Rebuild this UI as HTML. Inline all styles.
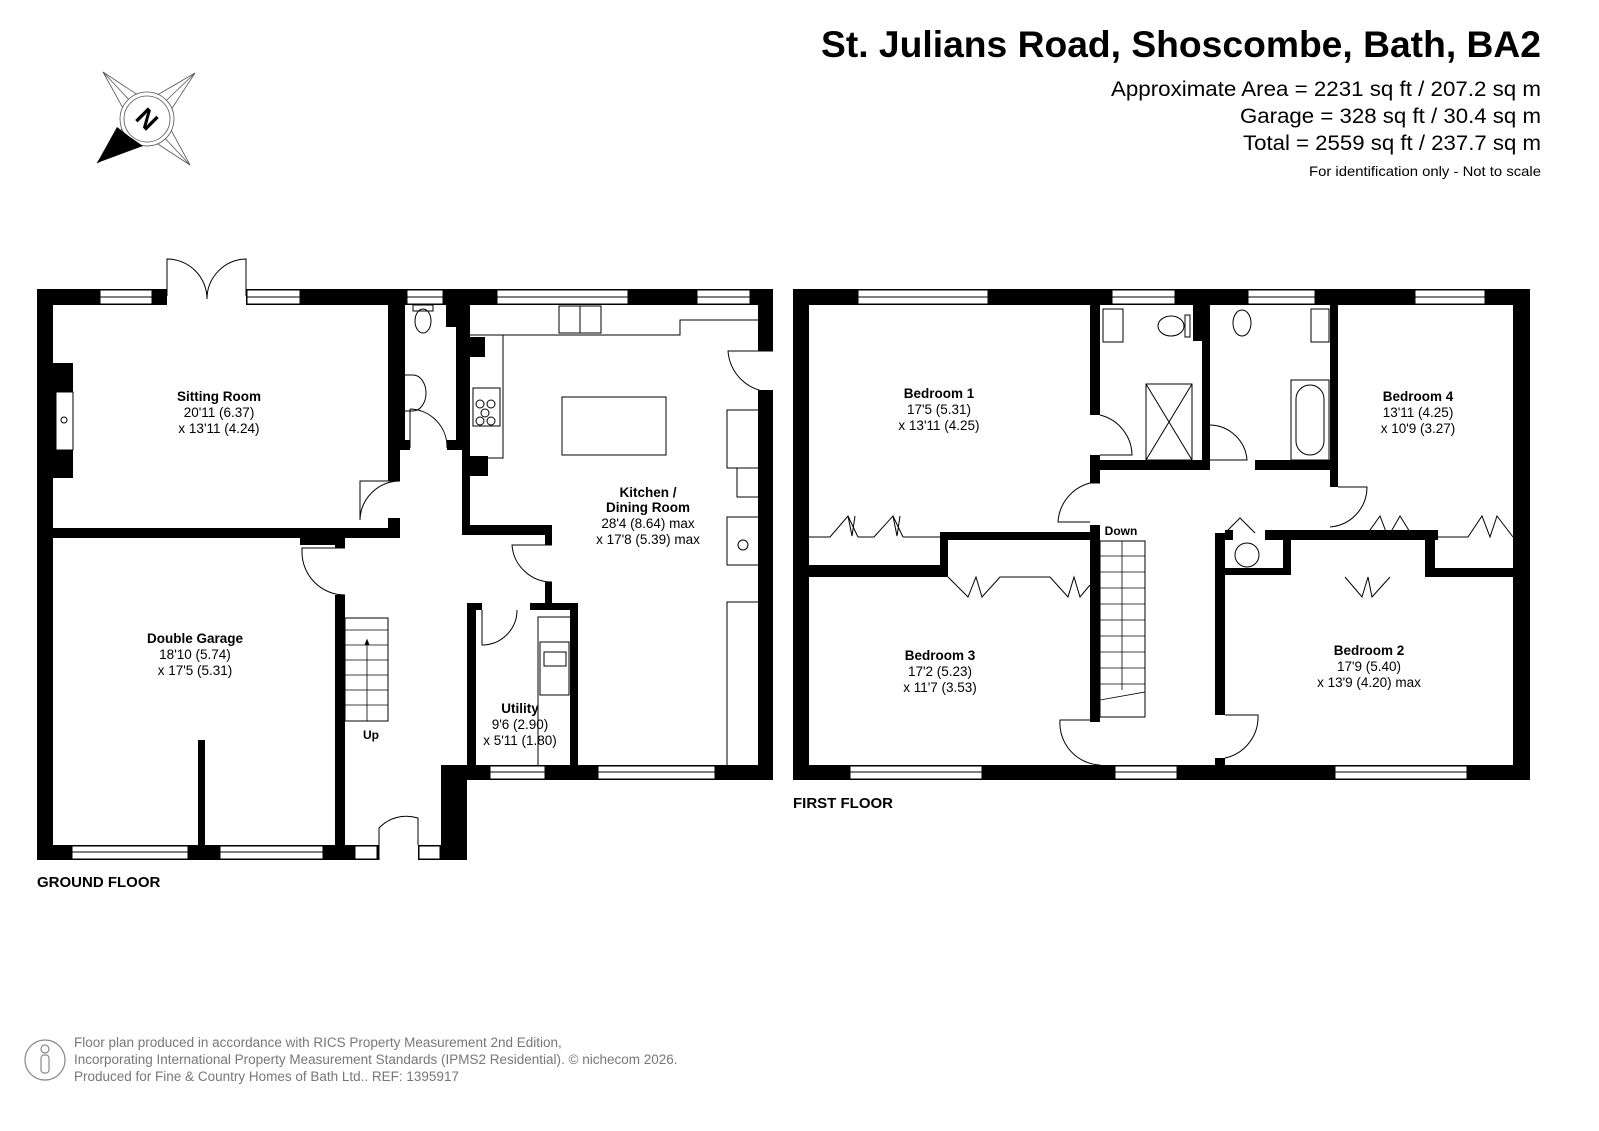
<!DOCTYPE html>
<html><head><meta charset="utf-8"><style>
html,body{margin:0;padding:0;background:#fff}
svg{display:block;font-family:"Liberation Sans",Arial,sans-serif}
</style></head><body>
<svg width="1599" height="1131" viewBox="0 0 1599 1131" xmlns="http://www.w3.org/2000/svg">
<!-- header -->
<text x="1541" y="57" font-size="37" font-weight="bold" text-anchor="end" textLength="720" lengthAdjust="spacingAndGlyphs">St. Julians Road, Shoscombe, Bath, BA2</text>
<g font-size="21" text-anchor="end">
<text x="1541" y="96" textLength="430" lengthAdjust="spacingAndGlyphs">Approximate Area = 2231 sq ft / 207.2 sq m</text>
<text x="1541" y="123" textLength="301" lengthAdjust="spacingAndGlyphs">Garage = 328 sq ft / 30.4 sq m</text>
<text x="1541" y="150" textLength="298" lengthAdjust="spacingAndGlyphs">Total = 2559 sq ft / 237.7 sq m</text>
</g>
<text x="1541" y="176" font-size="14" text-anchor="end" textLength="232" lengthAdjust="spacingAndGlyphs">For identification only - Not to scale</text>

<!-- compass -->
<g stroke="#555" stroke-width="0.8" fill="none">
<polygon points="103,72 147,101 195,73 165,119 190,165 147,137 97,163 129,119"/>
<line x1="103" y1="72" x2="147" y2="119"/><line x1="195" y1="73" x2="147" y2="119"/><line x1="190" y1="165" x2="147" y2="119"/>
<circle cx="147" cy="119" r="27" fill="#fff"/><circle cx="147" cy="119" r="23"/>
</g>
<polygon points="97,163 117,127 130,137 143,146" fill="#000"/>
<text x="147" y="128" font-size="26" font-weight="bold" text-anchor="middle" transform="rotate(45 147 119)">N</text>

<!-- ================= GROUND FLOOR ================= -->
<g fill="#000">
<rect x="37" y="289" width="736" height="16"/>
<rect x="37" y="289" width="16" height="571"/>
<rect x="53" y="363" width="20" height="115"/>
<rect x="53" y="528" width="347" height="10"/>
<rect x="388" y="305" width="12" height="176"/>
<rect x="388" y="518" width="12" height="20"/>
<rect x="300" y="538" width="45" height="7"/>
<rect x="335" y="538" width="10" height="10"/>
<rect x="335" y="595" width="10" height="265"/>
<rect x="400" y="305" width="5" height="145"/>
<rect x="400" y="440" width="10" height="10"/>
<rect x="446" y="305" width="17" height="22"/>
<rect x="456" y="305" width="7" height="145"/>
<rect x="447" y="440" width="16" height="10"/>
<rect x="462" y="305" width="8" height="230"/>
<rect x="470" y="337" width="15" height="20"/>
<rect x="470" y="456" width="18" height="20"/>
<rect x="462" y="525" width="90" height="10"/>
<rect x="545" y="525" width="7" height="20"/>
<rect x="545" y="582" width="7" height="28"/>
<rect x="467" y="603" width="9" height="162"/>
<rect x="467" y="603" width="15" height="7"/>
<rect x="530" y="603" width="48" height="7"/>
<rect x="570" y="603" width="8" height="162"/>
<rect x="758" y="289" width="15" height="62"/>
<rect x="758" y="390" width="15" height="390"/>
<rect x="441" y="765" width="332" height="15"/>
<rect x="441" y="765" width="26" height="95"/>
<rect x="37" y="845" width="430" height="15"/>
<rect x="198" y="740" width="7" height="120"/>
</g>
<!-- GF windows -->
<g fill="#fff" stroke="#000" stroke-width="1">
<rect x="100" y="290" width="52" height="14"/><rect x="247" y="290" width="53" height="14"/>
<rect x="407" y="290" width="36" height="14"/><rect x="497" y="290" width="131" height="14"/>
<rect x="697" y="290" width="53" height="14"/>
<rect x="490" y="766" width="55" height="13"/><rect x="598" y="766" width="117" height="13"/>
<rect x="72" y="846" width="116" height="13"/><rect x="220" y="846" width="103" height="13"/>
<rect x="355" y="846" width="22" height="13"/><rect x="419" y="846" width="21" height="13"/>
<rect x="56" y="392" width="17" height="58"/>
</g>
<rect x="167" y="288" width="79" height="18" fill="#fff"/>
<rect x="379" y="844" width="39" height="17" fill="#fff"/>
<g fill="none" stroke="#000" stroke-width="1">
<line x1="100" y1="297" x2="152" y2="297"/><line x1="247" y1="297" x2="300" y2="297"/>
<line x1="407" y1="297" x2="443" y2="297"/><line x1="497" y1="297" x2="628" y2="297"/><line x1="697" y1="297" x2="750" y2="297"/>
<line x1="490" y1="772" x2="545" y2="772"/><line x1="598" y1="772" x2="715" y2="772"/>
<line x1="72" y1="852" x2="188" y2="852"/><line x1="220" y1="852" x2="323" y2="852"/>
<!-- french doors -->
<path d="M167,296 V259 A40,40 0 0 1 207,299"/><path d="M246,296 V259 A40,40 0 0 0 207,299"/>
<!-- doors -->
<path d="M400,481 H360 V520 A40,40 0 0 1 400,481"/>
<path d="M345,548 H302 V552 A43,43 0 0 0 345,595"/>
<path d="M410,409 V448 M410,409 A38,38 0 0 1 447,448"/>
<path d="M552,545 H512 A40,40 0 0 0 552,582"/>
<path d="M482,610 V645 A35,35 0 0 0 517,610"/>
<path d="M773,351 H728 A44,44 0 0 0 773,392"/>
<path d="M379,860 V828 A38,38 0 0 1 418,818 V845"/>
<!-- kitchen units -->
<path d="M470,335 H503 V458 H470"/>
<path d="M503,335 H680 V320 H758"/>
<rect x="562" y="397" width="104" height="58"/>
<path d="M758,410 H727 V468 H758 M737,468 V497 H758"/>
<path d="M758,517 H727 V565 H758"/><circle cx="743" cy="545" r="5"/>
<path d="M758,602 H727 V765"/>
<rect x="559" y="306" width="42" height="27"/><line x1="580" y1="306" x2="580" y2="333"/>
<rect x="473" y="388" width="27" height="38"/><circle cx="480" cy="404" r="4"/><circle cx="491" cy="404" r="4"/><circle cx="485" cy="413" r="4"/><circle cx="480" cy="421" r="4"/><circle cx="491" cy="421" r="4"/>
<!-- wc -->
<ellipse cx="423" cy="321" rx="8" ry="12"/><rect x="413" y="305" width="20" height="6"/>
<path d="M405,375 H413 A13,18 0 0 1 413,411 H405"/>
<!-- utility -->
<path d="M578,617 H538 V765"/><rect x="540" y="642" width="29" height="53"/><rect x="544" y="652" width="22" height="14"/>
<!-- stairs -->
<rect x="345" y="618" width="43" height="103"/>
<g stroke-width="0.8">
<line x1="345" y1="630" x2="388" y2="630"/><line x1="345" y1="645" x2="388" y2="645"/><line x1="345" y1="660" x2="388" y2="660"/><line x1="345" y1="675" x2="388" y2="675"/><line x1="345" y1="690" x2="388" y2="690"/><line x1="345" y1="705" x2="388" y2="705"/>
<line x1="367" y1="640" x2="367" y2="721"/></g>
<path d="M365,645 L367,640 L369,645" fill="#000"/>
<circle cx="64" cy="420" r="3"/>
</g>
<g fill="#000" text-anchor="middle" font-size="13.5">
<text x="219" y="401" font-weight="bold">Sitting Room</text>
<text x="219" y="417">20'11 (6.37)</text><text x="219" y="433">x 13'11 (4.24)</text>
<text x="195" y="643" font-weight="bold">Double Garage</text>
<text x="195" y="659">18'10 (5.74)</text><text x="195" y="675">x 17'5 (5.31)</text>
<text x="648" y="497" font-weight="bold">Kitchen /</text>
<text x="648" y="512" font-weight="bold">Dining Room</text>
<text x="648" y="528">28'4 (8.64) max</text><text x="648" y="544">x 17'8 (5.39) max</text>
<text x="520" y="713" font-weight="bold">Utility</text>
<text x="520" y="729">9'6 (2.90)</text><text x="520" y="745">x 5'11 (1.80)</text>
<text x="371" y="739" font-weight="bold" font-size="12">Up</text>
<text x="37" y="887" font-weight="bold" font-size="15" text-anchor="start">GROUND FLOOR</text>
</g>

<!-- ================= FIRST FLOOR ================= -->
<g fill="#000">
<rect x="793" y="289" width="737" height="16"/>
<rect x="793" y="289" width="16" height="491"/>
<rect x="1513" y="289" width="17" height="491"/>
<rect x="793" y="765" width="737" height="15"/>
<rect x="1090" y="305" width="10" height="110"/>
<rect x="1090" y="455" width="10" height="28"/>
<rect x="1193" y="305" width="17" height="36"/>
<rect x="1202" y="305" width="8" height="158"/>
<rect x="1090" y="460" width="120" height="10"/>
<rect x="1255" y="460" width="80" height="10"/>
<rect x="1330" y="305" width="8" height="182"/>
<rect x="1090" y="525" width="10" height="197"/>
<rect x="940" y="532" width="160" height="8"/>
<rect x="940" y="532" width="8" height="45"/>
<rect x="809" y="565" width="139" height="12"/>
<rect x="1215" y="533" width="10" height="182"/>
<rect x="1215" y="758" width="10" height="10"/>
<rect x="1265" y="530" width="73" height="10"/>
<rect x="1225" y="530" width="8" height="10"/>
<rect x="1338" y="530" width="10" height="10"/>
<rect x="1283" y="533" width="8" height="42"/>
<rect x="1225" y="568" width="66" height="7"/>
<rect x="1330" y="530" width="100" height="10"/>
<rect x="1425" y="530" width="10" height="47"/>
<rect x="1425" y="568" width="88" height="9"/>
<rect x="1338" y="530" width="30" height="10" fill="#000"/>
</g>
<rect x="1345" y="531" width="1" height="1" fill="#000"/>
<g fill="#fff" stroke="#000" stroke-width="1">
<rect x="858" y="290" width="130" height="14"/><rect x="1112" y="290" width="63" height="14"/>
<rect x="1248" y="290" width="67" height="14"/><rect x="1415" y="290" width="70" height="14"/>
<rect x="850" y="766" width="132" height="13"/><rect x="1115" y="766" width="62" height="13"/>
<rect x="1335" y="766" width="132" height="13"/>
</g>
<rect x="1338" y="530" width="100" height="10" fill="#000"/>
<g fill="none" stroke="#000" stroke-width="1">
<line x1="858" y1="297" x2="988" y2="297"/><line x1="1112" y1="297" x2="1175" y2="297"/>
<line x1="1248" y1="297" x2="1315" y2="297"/><line x1="1415" y1="297" x2="1485" y2="297"/>
<line x1="850" y1="772" x2="982" y2="772"/><line x1="1115" y1="772" x2="1177" y2="772"/><line x1="1335" y1="772" x2="1467" y2="772"/>
<!-- doors -->
<path d="M1100,415 A42,42 0 0 1 1132,455 H1100"/>
<path d="M1100,483 H1090 A43,43 0 0 0 1058,522 H1090"/>
<path d="M1210,425 A38,38 0 0 1 1247,460 H1210"/>
<path d="M1338,487 H1367 A40,40 0 0 1 1330,527"/>
<path d="M1090,720 H1060 A42,42 0 0 0 1100,765"/>
<path d="M1225,715 H1258 A42,42 0 0 1 1225,758"/>
<!-- wardrobes -->
<path d="M809,537 L830,537 L848,516 L858,537 M848,516 L852,536 L855,516 M858,537 L874,537 L893,516 L903,537 M893,516 L897,536 L900,516 M903,537 L940,537"/>
<path d="M948,577 L968,597 L976,577 L982,597 L1000,577 L1050,577 L1068,597 L1074,577 L1080,597 L1090,585"/>
<path d="M1338,537 L1365,537 L1380,516 L1388,537 L1400,516 L1413,537 M1435,537 L1468,537 L1482,516 L1490,537 L1497,516 L1513,537"/>
<path d="M1345,577 L1362,597 L1368,577 L1372,597 L1390,577"/>
<path d="M1255,533 L1240,518 L1225,533"/>
<circle cx="1247" cy="555" r="12"/>
<!-- bathrooms -->
<rect x="1103" y="309" width="20" height="33"/><ellipse cx="1171" cy="326" rx="13" ry="10"/><rect x="1185" y="315" width="5" height="22"/>
<rect x="1146" y="384" width="46" height="76"/><path d="M1146,384 L1192,460 M1192,384 L1146,460"/>
<rect x="1311" y="309" width="18" height="33"/><ellipse cx="1242" cy="323" rx="9" ry="13"/>
<rect x="1291" y="380" width="38" height="80"/><rect x="1296" y="385" width="28" height="70" rx="14"/>
<!-- stairs -->
<rect x="1100" y="541" width="45" height="176"/>
<g stroke-width="0.8">
<line x1="1100" y1="556" x2="1145" y2="556"/><line x1="1100" y1="572" x2="1145" y2="572"/><line x1="1100" y1="588" x2="1145" y2="588"/><line x1="1100" y1="604" x2="1145" y2="604"/><line x1="1100" y1="620" x2="1145" y2="620"/><line x1="1100" y1="636" x2="1145" y2="636"/><line x1="1100" y1="652" x2="1145" y2="652"/><line x1="1100" y1="668" x2="1145" y2="668"/><line x1="1100" y1="684" x2="1145" y2="684"/><line x1="1100" y1="700" x2="1145" y2="692"/>
<line x1="1122" y1="541" x2="1122" y2="690"/></g>
</g>
<g fill="#000" text-anchor="middle" font-size="13.5">
<text x="939" y="398" font-weight="bold">Bedroom 1</text>
<text x="939" y="414">17'5 (5.31)</text><text x="939" y="430">x 13'11 (4.25)</text>
<text x="1418" y="401" font-weight="bold">Bedroom 4</text>
<text x="1418" y="417">13'11 (4.25)</text><text x="1418" y="433">x 10'9 (3.27)</text>
<text x="940" y="660" font-weight="bold">Bedroom 3</text>
<text x="940" y="676">17'2 (5.23)</text><text x="940" y="692">x 11'7 (3.53)</text>
<text x="1369" y="655" font-weight="bold">Bedroom 2</text>
<text x="1369" y="671">17'9 (5.40)</text><text x="1369" y="687">x 13'9 (4.20) max</text>
<text x="1121" y="535" font-weight="bold" font-size="12">Down</text>
<text x="793" y="808" font-weight="bold" font-size="15" text-anchor="start">FIRST FLOOR</text>
</g>

<!-- footer -->
<g stroke="#888" fill="none" stroke-width="1.2">
<circle cx="45" cy="1060" r="20"/><circle cx="45" cy="1049" r="4"/><rect x="41" y="1055" width="8" height="18" rx="3"/>
</g>
<g fill="#777" font-size="13.5">
<text x="74" y="1047">Floor plan produced in accordance with RICS Property Measurement 2nd Edition,</text>
<text x="74" y="1064">Incorporating International Property Measurement Standards (IPMS2 Residential).   © n<tspan>i</tspan>checom 2026.</text>
<text x="74" y="1081">Produced for Fine &amp; Country Homes of Bath Ltd..   REF: 1395917</text>
</g>
</svg>
</body></html>
